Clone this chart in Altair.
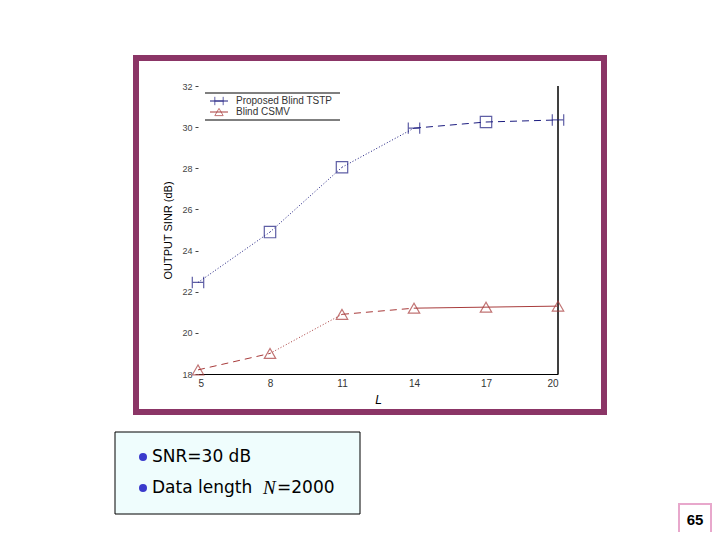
import altair as alt
import pandas as pd

# ---- data ----
L_values = [5, 8, 11, 14, 17, 20]
tstp = [22.45, 24.9, 28.05, 29.95, 30.25, 30.35]
csmv = [18.2, 19.0, 20.9, 21.2, 21.25, 21.3]
tstp_markers = ["plus", "square", "square", "plus", "square", "plus"]
csmv_markers = ["triangle"] * 6
tstp_styles = ["dotted", "dotted", "dotted", "dashed", "dashed"]
csmv_styles = ["dashed", "dotted", "dashed", "solid", "solid"]
series_names = ["Proposed Blind TSTP", "Blind CSMV"]
y_ticks = [18, 20, 22, 24, 26, 28, 30, 32]
x_ticks = [5, 8, 11, 14, 17, 20]

BLUE = "#1c1c80"
RED = "#a83a3a"
MAROON = "#8b3566"

pts = []
segs = []
for name, vals, marks, styles in [
    (series_names[0], tstp, tstp_markers, tstp_styles),
    (series_names[1], csmv, csmv_markers, csmv_styles),
]:
    for i, (l, v) in enumerate(zip(L_values, vals)):
        pts.append({"series": name, "L": l, "v": v, "mk": marks[i]})
    for i, st in enumerate(styles):
        for j in (i, i + 1):
            segs.append({"series": name, "seg": f"{name}-{i}", "L": L_values[j],
                         "v": vals[j], "style": st})
pts = pd.DataFrame(pts)
segs = pd.DataFrame(segs)

color_scale = alt.Scale(domain=series_names, range=[BLUE, RED])
xs = alt.Scale(domain=[5, 20], nice=False)
ys = alt.Scale(domain=[18, 32], nice=False)

W, H = 360, 288

lines = alt.Chart(segs).mark_line(strokeWidth=1).encode(
    x=alt.X("L:Q", scale=xs, axis=alt.Axis(
        values=x_ticks, title="L", titleFontStyle="italic", titleFontWeight="normal",
        titleFont="Liberation Sans", titleFontSize=12, titlePadding=6,
        labelFont="Liberation Sans", labelFontSize=10, labelColor="#333333",
        tickSize=0, labelPadding=4, domainColor="black", grid=False)),
    y=alt.Y("v:Q", scale=ys, axis=alt.Axis(
        values=y_ticks, title="OUTPUT SINR (dB)", titleFont="Liberation Sans",
        titleFontSize=11, titleFontWeight="normal", titlePadding=8,
        labelFont="Liberation Sans", labelFontSize=9, labelColor="#444444",
        tickSize=3, tickColor="#444444", labelPadding=3, domain=False, grid=False)),
    color=alt.Color("series:N", scale=color_scale, legend=None),
    strokeDash=alt.StrokeDash("style:N", scale=alt.Scale(
        domain=["solid", "dashed", "dotted"], range=[[1, 0], [7, 5], [1, 2]]), legend=None),
    detail="seg:N",
)

shape_scale = alt.Scale(domain=["plus", "square", "triangle"],
                        range=["M-1,0L1,0M-1,-1L-1,1M1,-1L1,1", "square", "triangle-up"])
points = alt.Chart(pts).mark_point(filled=False, strokeWidth=1.2, size=130).encode(
    x=alt.X("L:Q", scale=xs),
    y=alt.Y("v:Q", scale=ys, axis=None),
    color=alt.Color("series:N", scale=color_scale, legend=None),
    shape=alt.Shape("mk:N", scale=shape_scale, legend=None),
)

# right axis line
right_axis = alt.Chart(pd.DataFrame({"v": [18, 32]})).mark_rule(color="black", strokeWidth=1).encode(
    x=alt.value(W), y=alt.value(0), y2=alt.value(H))

# legend (manual)
leg = pd.DataFrame({"series": series_names, "row": [0, 1],
                    "mk": ["plus", "triangle"]})
rowscale = alt.Scale(domain=[0, 1], range=[15, 26])
leg_rules = alt.Chart(pd.DataFrame({"k": [0, 1]})).mark_rule(color="black", strokeWidth=1).encode(
    x=alt.value(7), x2=alt.value(142),
    y=alt.Y("k:Q", scale=alt.Scale(domain=[0, 1], range=[7, 34]), axis=None))
leg_lines = alt.Chart(leg).mark_rule(strokeWidth=1).encode(
    x=alt.value(12), x2=alt.value(30),
    y=alt.Y("row:Q", scale=rowscale, axis=None),
    color=alt.Color("series:N", scale=color_scale, legend=None))
leg_pts = alt.Chart(leg).mark_point(filled=False, size=70, strokeWidth=1).encode(
    x=alt.value(21),
    y=alt.Y("row:Q", scale=rowscale, axis=None),
    color=alt.Color("series:N", scale=color_scale, legend=None),
    shape=alt.Shape("mk:N", scale=shape_scale, legend=None))
leg_text = alt.Chart(leg).mark_text(align="left", baseline="middle", font="Liberation Sans",
                                    fontSize=10, color="#333333").encode(
    x=alt.value(38),
    y=alt.Y("row:Q", scale=rowscale, axis=None),
    text="series:N")

# slide decorations
frame = alt.Chart(pd.DataFrame({"a": [0]})).mark_rect(
    fill=None, stroke=MAROON, strokeWidth=6).encode(
    x=alt.value(-62), x2=alt.value(406), y=alt.value(-28), y2=alt.value(326))
box = alt.Chart(pd.DataFrame({"a": [0]})).mark_rect(
    fill="#effdfd", stroke="black", strokeWidth=1).encode(
    x=alt.value(-83), x2=alt.value(162), y=alt.value(346), y2=alt.value(428))
notescale = alt.Scale(domain=[0, 1], range=[371, 402])
bullets = alt.Chart(pd.DataFrame({"r": [0, 1]})).mark_circle(color="#3a3acc", size=64, opacity=1).encode(
    x=alt.value(-55),
    y=alt.Y("r:Q", scale=notescale, axis=None))
notes = pd.DataFrame({"r": [0, 1], "t": ["SNR=30 dB", "Data length"]})
note_text = alt.Chart(notes).mark_text(align="left", baseline="middle", font="DejaVu Sans",
                                       fontSize=17, color="black").encode(
    x=alt.value(-46),
    y=alt.Y("r:Q", scale=notescale, axis=None),
    text="t:N")
n_italic = alt.Chart(pd.DataFrame({"t": ["N"]})).mark_text(
    align="left", baseline="middle", font="Liberation Serif", fontStyle="italic",
    fontSize=19, color="black").encode(x=alt.value(65), y=alt.value(402), text="t:N")
n_val = alt.Chart(pd.DataFrame({"t": ["=2000"]})).mark_text(
    align="left", baseline="middle", font="DejaVu Sans", fontSize=17, color="black").encode(
    x=alt.value(79), y=alt.value(402), text="t:N")
page_box = alt.Chart(pd.DataFrame({"a": [0]})).mark_rect(
    fill="white", stroke="#e8a8cc", strokeWidth=2).encode(
    x=alt.value(481), x2=alt.value(513), y=alt.value(418), y2=alt.value(449))
page_num = alt.Chart(pd.DataFrame({"t": ["65"]})).mark_text(
    align="center", baseline="middle", font="Liberation Sans", fontWeight="bold",
    fontSize=15, color="black").encode(x=alt.value(497), y=alt.value(434), text="t:N")

chart = alt.layer(
    frame, box, bullets, note_text, n_italic, n_val, page_box, page_num,
    right_axis, lines, points, leg_rules, leg_lines, leg_pts, leg_text,
).resolve_scale(y="independent").properties(
    width=W, height=H,
    autosize=alt.AutoSizeParams(type="none"),
    padding={"left": 190, "top": 78, "right": 154, "bottom": 158},
    background="white",
).configure_view(stroke=None)

chart.save("out.html", embed_options={"renderer": "svg", "actions": False})
